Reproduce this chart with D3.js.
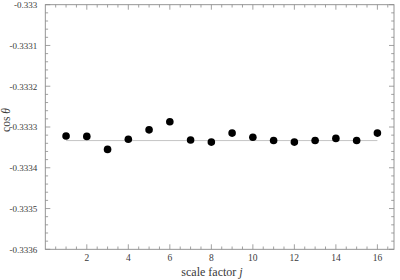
<!DOCTYPE html>
<html>
<head>
<meta charset="utf-8">
<script src="https://cdn.jsdelivr.net/npm/d3@7"></script>
<style>
  body { margin: 0; background: #fff; }
  svg text { font-family: "Liberation Serif", "Times New Roman", "DejaVu Serif", serif; }
</style>
</head>
<body>
<div id="chart"></div>
<script>
// scale factor j
const scaleFactors = [1, 2, 3, 4, 5, 6, 7, 8, 9, 10, 11, 12, 13, 14, 15, 16];
// cos theta per scale factor
const cosValues = [-0.333322, -0.333323, -0.333355, -0.33333, -0.333307, -0.333287, -0.333332, -0.333337,
                   -0.333315, -0.333325, -0.333333, -0.333337, -0.333333, -0.333328, -0.333333, -0.333315];
// reference value (-1/3)
const refValue = -1 / 3;
const xTicks = [2, 4, 6, 8, 10, 12, 14, 16];
const yTicks = [-0.333, -0.3331, -0.3332, -0.3333, -0.3334, -0.3335, -0.3336];
const yTickLabels = ['-0.333', '-0.3331', '-0.3332', '-0.3333', '-0.3334', '-0.3335', '-0.3336'];

const width = 400, height = 280;
const margin = {top: 4.7, right: 6, bottom: 30.7, left: 45.3};
const innerW = width - margin.left - margin.right;
const innerH = height - margin.top - margin.bottom;
const serif = '"Liberation Serif", "Times New Roman", "DejaVu Serif", serif';

const svg = d3.select('#chart').append('svg')
  .attr('width', width)
  .attr('height', height);

const g = svg.append('g')
  .attr('transform', `translate(${margin.left},${margin.top})`);

const x = d3.scaleLinear().domain([0, 16.8]).range([0, innerW]);
const y = d3.scaleLinear().domain([-0.3336, -0.333]).range([innerH, 0]);

// minor tick positions
const xMinor = d3.range(0.5, 16.8, 0.5).filter(v => Math.abs(v / 2 - Math.round(v / 2)) > 1e-6);
const yMinor = d3.range(0, 31).map(i => -0.3336 + i * 0.00002)
  .filter((v, i) => i % 5 !== 0);

const frameColor = '#8a8a8a';
const textColor = '#3a3a3a';
const majorLen = 5, minorLen = 2.8;

function tickGroup(ticks, len, cls) {
  // bottom
  g.selectAll(`.xb-${cls}`).data(ticks[0]).enter().append('line')
    .attr('x1', d => x(d)).attr('x2', d => x(d))
    .attr('y1', innerH).attr('y2', innerH - len)
    .attr('stroke', frameColor).attr('stroke-width', 0.8);
  // top
  g.selectAll(`.xt-${cls}`).data(ticks[0]).enter().append('line')
    .attr('x1', d => x(d)).attr('x2', d => x(d))
    .attr('y1', 0).attr('y2', len)
    .attr('stroke', frameColor).attr('stroke-width', 0.8);
  // left
  g.selectAll(`.yl-${cls}`).data(ticks[1]).enter().append('line')
    .attr('x1', 0).attr('x2', len)
    .attr('y1', d => y(d)).attr('y2', d => y(d))
    .attr('stroke', frameColor).attr('stroke-width', 0.8);
  // right
  g.selectAll(`.yr-${cls}`).data(ticks[1]).enter().append('line')
    .attr('x1', innerW).attr('x2', innerW - len)
    .attr('y1', d => y(d)).attr('y2', d => y(d))
    .attr('stroke', frameColor).attr('stroke-width', 0.8);
}

tickGroup([xTicks, yTicks], majorLen, 'major');
tickGroup([xMinor, yMinor], minorLen, 'minor');

// frame
g.append('rect')
  .attr('x', 0).attr('y', 0)
  .attr('width', innerW).attr('height', innerH)
  .attr('fill', 'none')
  .attr('stroke', frameColor)
  .attr('stroke-width', 0.9);

// tick labels
g.selectAll('.xlabel').data(xTicks).enter().append('text')
  .attr('x', d => x(d))
  .attr('y', innerH + 12)
  .attr('text-anchor', 'middle')
  .attr('font-family', serif)
  .attr('font-size', 9.5)
  .attr('fill', textColor)
  .text(d => d);

g.selectAll('.ylabel').data(yTicks).enter().append('text')
  .attr('x', -8)
  .attr('y', d => y(d) + 3.3)
  .attr('text-anchor', 'end')
  .attr('font-family', serif)
  .attr('font-size', 9)
  .attr('fill', textColor)
  .text((d, i) => yTickLabels[i]);

// reference line
g.append('line')
  .attr('x1', x(scaleFactors[0]))
  .attr('x2', x(scaleFactors[scaleFactors.length - 1]))
  .attr('y1', y(refValue))
  .attr('y2', y(refValue))
  .attr('stroke', '#c4c4c4')
  .attr('stroke-width', 1);

// points
g.selectAll('circle').data(scaleFactors).enter().append('circle')
  .attr('cx', d => x(d))
  .attr('cy', (d, i) => y(cosValues[i]))
  .attr('r', 3.8)
  .attr('fill', '#000');

// axis titles
const xt = svg.append('text')
  .attr('x', 212)
  .attr('y', 276)
  .attr('text-anchor', 'middle')
  .attr('font-family', serif)
  .attr('font-size', 12)
  .attr('fill', textColor);
xt.append('tspan').text('scale factor ');
xt.append('tspan').attr('font-style', 'italic').text('j');

const yt = svg.append('text')
  .attr('transform', 'translate(10,120) rotate(-90)')
  .attr('text-anchor', 'middle')
  .attr('font-family', serif)
  .attr('font-size', 11.5)
  .attr('fill', textColor);
yt.append('tspan').text('cos ');
yt.append('tspan').attr('font-style', 'italic').text('θ');
</script>
</body>
</html>
